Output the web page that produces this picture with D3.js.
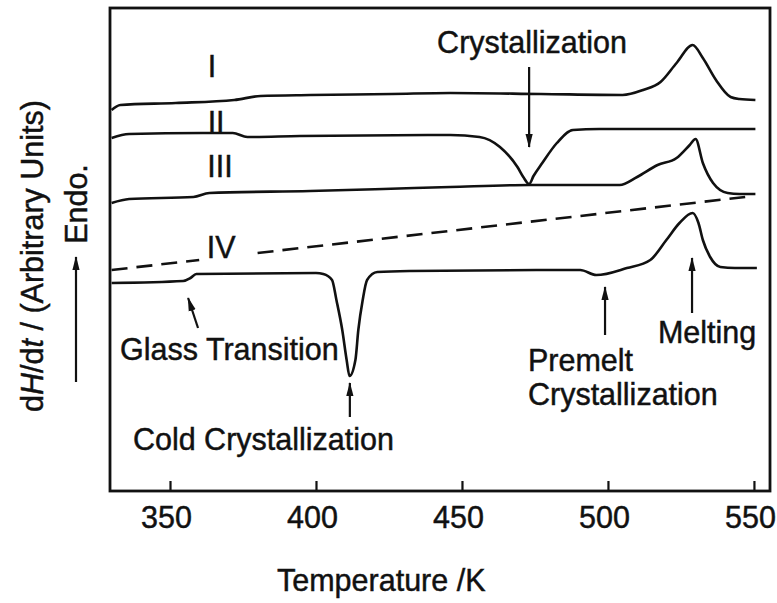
<!DOCTYPE html>
<html>
<head>
<meta charset="utf-8">
<script src="https://cdn.jsdelivr.net/npm/d3@7"></script>
<style>
    body { margin: 0; background: #fff; }
    .dsc-chart { width: 777px; height: 603px; }
    text { font-family: "Liberation Sans", Arial, Helvetica, sans-serif; fill: #111; stroke: #111; stroke-width: 0.45px; }
</style>
</head>
<body>
<div class="dsc-chart"></div>
<script>

// temperature (K) and heat flow dH/dt (arbitrary units)
const tempI = [330, 333, 352, 372, 381, 398, 426, 446, 477, 505, 512, 518, 523.5, 529, 532.5, 537, 542, 545, 550.5];
const valI  = [38.1, 38.6, 38.8, 39.1, 39.5, 39.6, 39.7, 39.8, 39.7, 39.6, 40.1, 40.9, 42.8, 44.6, 43.3, 41.1, 39.4, 39.2, 39.1];

const tempII = [330, 336, 361, 371.5, 376.5, 394.5, 446, 456, 463, 469, 471, 473, 474.5, 477.5, 482.5, 488, 497, 550.5];
const valII  = [35.3, 35.7, 35.8, 35.8, 35.4, 35.5, 35.6, 35.4, 34.4, 32.4, 31.4, 30.7, 31.5, 32.8, 34.8, 36.1, 36.2, 36.2];

const tempIII = [330, 336, 358, 363.5, 398, 423, 446, 473, 504, 510, 517, 523.5, 528, 530, 532.5, 536, 541, 545, 550.5];
const valIII  = [28.8, 29.2, 29.4, 29.8, 30.0, 30.2, 30.4, 30.6, 30.6, 31.4, 32.6, 33.3, 34.6, 35.2, 32.8, 30.8, 29.8, 29.7, 29.7];

const tempIV = [330, 354.5, 357, 359, 400, 402.5, 405.5, 407, 409, 410.5, 411.5, 413.5, 414.5, 416, 417.5, 421, 432, 483.5, 490.5, 496, 506.5, 514.5, 520, 524.5, 529, 531, 532.5, 535, 538.5, 543.5, 551];
const valIV  = [20.8, 21.0, 21.3, 21.7, 21.8, 21.7, 21.1, 19.1, 16.1, 13.1, 11.5, 13.1, 16.1, 19.1, 21.1, 21.9, 22.0, 22.1, 22.1, 21.6, 22.3, 23.1, 25.1, 26.8, 27.8, 26.8, 25.1, 23.4, 22.4, 22.3, 22.3];

// dashed base line under IV, broken around its label
const baseT = [[330, 360], [380, 547]];
const baseV = [[22.1, 23.1], [23.8, 29.4]];

const curveNames = ["I", "II", "III", "IV"];
const xTicks = [350, 400, 450, 500, 550];

// event arrows: tail -> head
const arrowName = ["Crystallization", "Melting", "Premelt", "Glass", "Cold"];
const arrowFromT = [473, 528.8, 499, 359.6, 411.6];
const arrowFromV = [42.4, 17.8, 15.6, 16.3, 7.4];
const arrowToT   = [473, 528.8, 499, 356.2, 411.6];
const arrowToV   = [34.4, 23.3, 20.4, 19.3, 10.8];


class Chart {

    constructor(props) {

        this.container = props.container;
        this.margin = props.margin;
        this.fontSize = props.fontSize;
    }

    initialise() {

        let c = document.getElementsByClassName(this.container)[0];
        this.width = c.offsetWidth - this.margin.left - this.margin.right;
        this.height = c.offsetHeight - this.margin.top - this.margin.bottom;

        this.svg = d3.select(`.${this.container}`)
            .append("svg")
            .attr("width", c.offsetWidth)
            .attr("height", c.offsetHeight);

        this.g = this.svg.append("g")
            .attr("transform", "translate(" + this.margin.left + "," + this.margin.top + ")");

        this.x = d3.scaleLinear().domain([329.45, 555.5]).range([0, this.width]);
        this.y = d3.scaleLinear().domain([0, 48.3]).range([this.height, 0]);
    }

    draw() {

        const x = this.x, y = this.y, g = this.g;
        const fs = this.fontSize + "px";

        const defs = this.svg.append("defs");
        defs.append("marker")
            .attr("id", "head")
            .attr("viewBox", "0 -5 14 10")
            .attr("refX", 13)
            .attr("refY", 0)
            .attr("markerUnits", "userSpaceOnUse")
            .attr("markerWidth", 14)
            .attr("markerHeight", 10)
            .attr("orient", "auto")
            .append("path")
            .attr("d", "M0,-3.6L14,0L0,3.6Z")
            .attr("fill", "#111");

        // frame
        g.append("rect")
            .attr("width", this.width)
            .attr("height", this.height)
            .attr("fill", "none")
            .attr("stroke", "#111")
            .attr("stroke-width", 2.8);

        // bottom axis, ticks pointing in
        const axis = g.append("g")
            .attr("transform", "translate(0," + this.height + ")")
            .call(d3.axisBottom(x).tickValues(xTicks).tickSizeInner(-10).tickSizeOuter(0).tickPadding(15));
        axis.select(".domain").remove();
        axis.selectAll("line").attr("stroke", "#111").attr("stroke-width", 2.2);
        axis.selectAll("text")
            .attr("dx", -4)
            .style("font-family", "'Liberation Sans', Arial, sans-serif")
            .style("font-size", fs)
            .attr("fill", "#111");

        const line = d3.line()
            .x(d => x(d[0]))
            .y(d => y(d[1]))
            .curve(d3.curveMonotoneX);

        const curves = [
            d3.zip(tempI, valI),
            d3.zip(tempII, valII),
            d3.zip(tempIII, valIII),
            d3.zip(tempIV, valIV)
        ];

        g.selectAll(".trace")
            .data(curves)
            .join("path")
            .attr("class", "trace")
            .attr("d", line)
            .attr("fill", "none")
            .attr("stroke", "#111")
            .attr("stroke-width", 2.6)
            .attr("stroke-linejoin", "round");

        g.selectAll(".base")
            .data(baseT.map((t, i) => d3.zip(t, baseV[i])))
            .join("path")
            .attr("class", "base")
            .attr("d", d3.line().x(d => x(d[0])).y(d => y(d[1])))
            .attr("fill", "none")
            .attr("stroke", "#111")
            .attr("stroke-width", 2.6)
            .attr("stroke-dasharray", "16,9");

        // curve labels I..IV
        const romanT = [364.4, 365.8, 367.1, 367.5];
        const romanV = [41.4, 35.8, 31.4, 23.3];
        g.selectAll(".roman")
            .data(curveNames)
            .join("text")
            .attr("class", "roman")
            .attr("x", (d, i) => x(romanT[i]))
            .attr("y", (d, i) => y(romanV[i]))
            .attr("text-anchor", "middle")
            .style("font-size", fs)
            .text(d => d);

        // arrows
        g.selectAll(".arrow")
            .data(arrowName)
            .join("line")
            .attr("class", "arrow")
            .attr("x1", (d, i) => x(arrowFromT[i]))
            .attr("y1", (d, i) => y(arrowFromV[i]))
            .attr("x2", (d, i) => x(arrowToT[i]))
            .attr("y2", (d, i) => y(arrowToV[i]))
            .attr("stroke", "#111")
            .attr("stroke-width", 2.2)
            .attr("marker-end", "url(#head)");

        // annotations
        const notes = [
            { text: "Crystallization", t: 474, v: 43.8, anchor: "middle" },
            { text: "Glass Transition", t: 332.9, v: 13.1, anchor: "start" },
            { text: "Cold Crystallization", t: 337.3, v: 4.1, anchor: "start" },
            { text: "Premelt", t: 472.6, v: 12.0, anchor: "start" },
            { text: "Crystallization", t: 472.6, v: 8.6, anchor: "start" },
            { text: "Melting", t: 517.1, v: 14.8, anchor: "start" }
        ];
        g.selectAll(".note")
            .data(notes)
            .join("text")
            .attr("class", "note")
            .attr("x", d => x(d.t))
            .attr("y", d => y(d.v))
            .attr("text-anchor", d => d.anchor)
            .style("font-size", fs)
            .text(d => d.text);
    }

    titles() {

        const svg = this.svg;
        const fs = this.fontSize + "px";

        svg.append("text")
            .attr("x", 277)
            .attr("y", 591)
            .style("font-size", fs)
            .text("Temperature /K");

        const yl = svg.append("text")
            .attr("transform", "translate(43,256) rotate(-90)")
            .attr("text-anchor", "middle")
            .style("font-size", fs);
        yl.append("tspan").text("d");
        yl.append("tspan").style("font-style", "italic").text("H");
        yl.append("tspan").text("/d");
        yl.append("tspan").style("font-style", "italic").text("t");
        yl.append("tspan").text(" / (Arbitrary Units)");

        svg.append("text")
            .attr("transform", "translate(87,204) rotate(-90)")
            .attr("text-anchor", "middle")
            .style("font-size", fs)
            .text("Endo.");

        svg.append("line")
            .attr("x1", 76).attr("y1", 382)
            .attr("x2", 76).attr("y2", 257)
            .attr("stroke", "#111")
            .attr("stroke-width", 2.2)
            .attr("marker-end", "url(#head)");
    }
}

const chart = new Chart({
    container: "dsc-chart",
    margin: { top: 8, right: 7, bottom: 112, left: 110 },
    fontSize: 30.5
});
chart.initialise();
chart.draw();
chart.titles();

</script>
</body>
</html>
